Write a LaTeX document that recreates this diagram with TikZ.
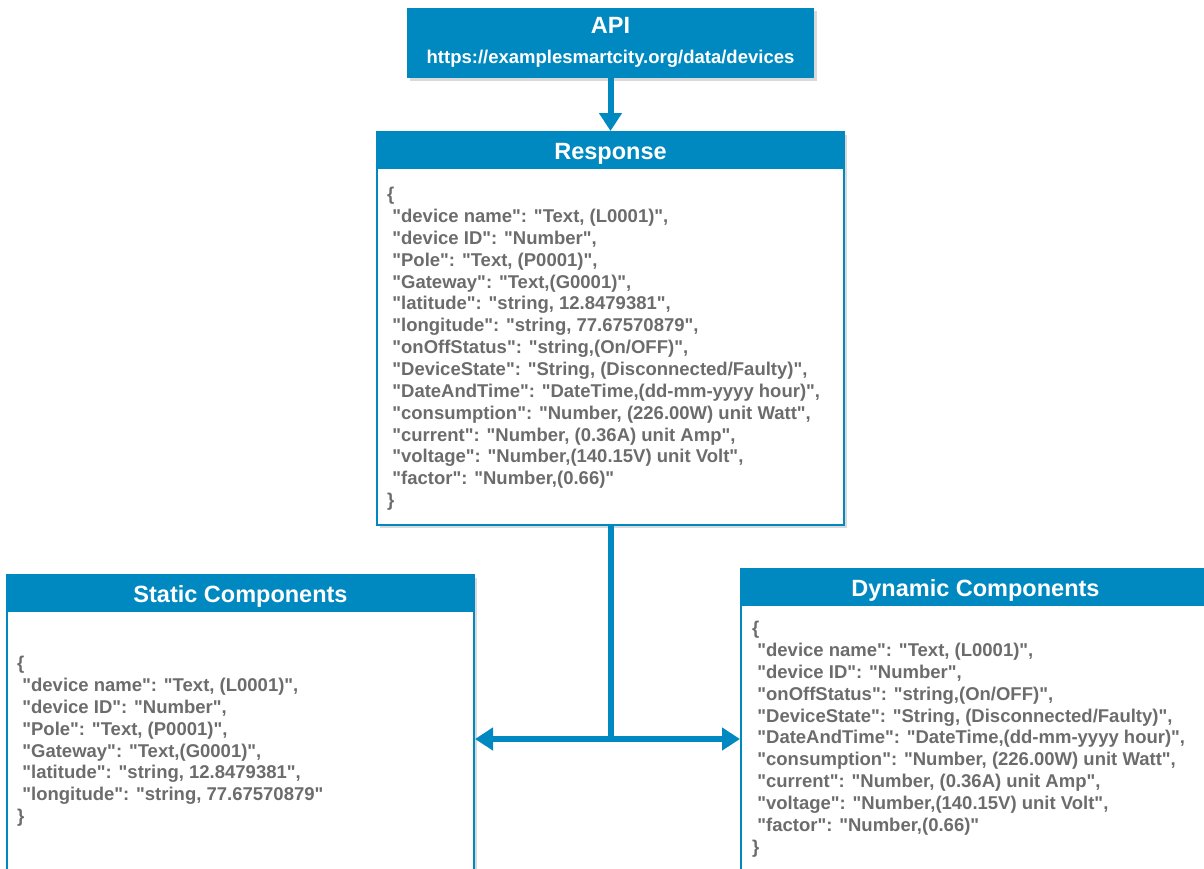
\documentclass[tikz,border=0pt]{standalone}
\usepackage{fontspec}
\setmainfont{Liberation Sans}[Ligatures=TeXOff]
\usetikzlibrary{arrows.meta,shadows,positioning}
\definecolor{apiblue}{RGB}{0,137,192}
\definecolor{jsongray}{RGB}{108,108,108}
\newcommand{\jsi}{\hspace*{.28em}}
\newcommand{\bodyfont}{\fontsize{18.5}{21.86}\selectfont\bfseries}
\newcommand{\headfont}{\fontsize{23.5}{28}\selectfont\bfseries}

\begin{document}
\begin{tikzpicture}[x=1pt,y=-1pt]
        \tikzset{box/.style={draw=apiblue,line width=2pt,fill=white,inner sep=0pt,
                drop shadow={shadow xshift=3pt,shadow yshift=-3pt,opacity=.3}},
            head/.style={fill=apiblue,text=white,inner sep=0pt,minimum height=38pt,
                text height=18.8pt,text depth=0pt,font=\headfont},
            json/.style={text=jsongray,align=left,inner sep=0pt,font=\bodyfont},
            link/.style={draw=apiblue,line width=6pt},
            tip/.style={-{Triangle[width=22pt,length=18pt]}}}
        \clip (0,0) rectangle (1204,868);
        % api
        \node[fill=apiblue,minimum width=407pt,minimum height=70pt,inner sep=0pt,
            drop shadow={shadow xshift=3pt,shadow yshift=-3pt,opacity=.3}] (api) at (610.5,43) {};
        \node[text=white,font=\headfont,inner sep=0pt] (apiname) at (610.5,25) {API};
        \node[text=white,font=\bodyfont,inner sep=0pt] (apiurl) at (610.5,59) {https://examplesmartcity.org/data/devices};
        % response
        \node[box,minimum width=467pt,minimum height=393pt] (resp) at (610.5,328.5) {};
        \node[head,minimum width=467pt,anchor=north] (resphead) at (resp.north) {Response};
        \node[json,anchor=north west] (resptext) at (387,187) {\{\\
            \jsi"device name": "Text, (L0001)",\\
            \jsi"device ID": "Number",\\
            \jsi"Pole": "Text, (P0001)",\\
            \jsi"Gateway": "Text,(G0001)",\\
            \jsi"latitude": "string, 12.8479381",\\
            \jsi"longitude": "string, 77.67570879",\\
            \jsi"onOffStatus": "string,(On/OFF)",\\
            \jsi"DeviceState": "String, (Disconnected/Faulty)",\\
            \jsi"DateAndTime": "DateTime,(dd-mm-yyyy hour)",\\
            \jsi"consumption": "Number, (226.00W) unit Watt",\\
            \jsi"current": "Number, (0.36A) unit Amp",\\
            \jsi"voltage": "Number,(140.15V) unit Volt",\\
            \jsi"factor": "Number,(0.66)"\\
            \}};
        % static
        \node[box,minimum width=467pt,minimum height=315pt] (stat) at (240.5,732.5) {};
        \node[head,minimum width=467pt,anchor=north] (stathead) at (stat.north) {Static Components};
        \node[json,anchor=north west] (stattext) at (17,656) {\{\\
            \jsi"device name": "Text, (L0001)",\\
            \jsi"device ID": "Number",\\
            \jsi"Pole": "Text, (P0001)",\\
            \jsi"Gateway": "Text,(G0001)",\\
            \jsi"latitude": "string, 12.8479381",\\
            \jsi"longitude": "string, 77.67570879"\\
            \}};
        % dynamic
        \node[box,minimum width=469pt,minimum height=321pt] (dyn) at (975.5,729.5) {};
        \node[head,minimum width=469pt,anchor=north] (dynhead) at (dyn.north) {Dynamic Components};
        \node[json,anchor=north west] (dyntext) at (752,621) {\{\\
            \jsi"device name": "Text, (L0001)",\\
            \jsi"device ID": "Number",\\
            \jsi"onOffStatus": "string,(On/OFF)",\\
            \jsi"DeviceState": "String, (Disconnected/Faulty)",\\
            \jsi"DateAndTime": "DateTime,(dd-mm-yyyy hour)",\\
            \jsi"consumption": "Number, (226.00W) unit Watt",\\
            \jsi"current": "Number, (0.36A) unit Amp",\\
            \jsi"voltage": "Number,(140.15V) unit Volt",\\
            \jsi"factor": "Number,(0.66)"\\
            \}};
        % connectors
        \path (resp.south) ++(0,213) coordinate (split);
        \draw[link,tip] (api) -- (resphead);
        \draw[link] (resp.south) -- (split);
        \draw[link,tip] (split) -- (split -| stat.east);
        \draw[link,tip] (split) -- (split -| dyn.west);
    \end{tikzpicture}
\end{document}
